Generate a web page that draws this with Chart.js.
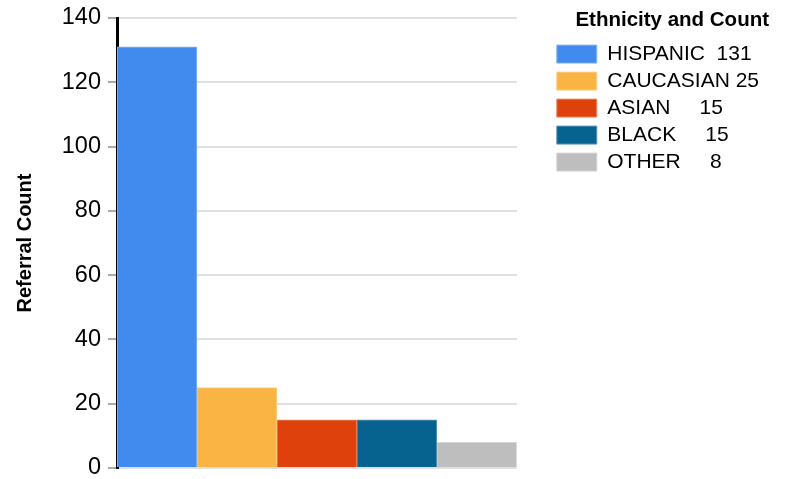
<!DOCTYPE html>
<html>
<head>
<meta charset="utf-8">
<script src="https://cdn.jsdelivr.net/npm/chart.js@4"></script>
<style>
  html, body { margin: 0; padding: 0; background: #fff; }
  #wrap { width: 786px; height: 479px; }
</style>
</head>
<body>
<div id="wrap"><canvas id="chart" width="786" height="479"></canvas></div>
<script>
// data
const groups = ['HISPANIC', 'CAUCASIAN', 'ASIAN', 'BLACK', 'OTHER'];
const counts = [131, 25, 15, 15, 8];
// legend text as shown (names padded so the counts line up)
const legendText = ['HISPANIC  131', 'CAUCASIAN 25', 'ASIAN     15', 'BLACK     15', 'OTHER     8'];
const fills = ['#418bee', '#f9b443', '#df410d', '#06638f', '#bebebe'];
const edges = ['#8ab6f3', '#fbcf87', '#eb8a68', '#5f98b6', '#d6d6d6'];
const yTicks = { min: 0, max: 140, step: 20 };

const font = "'Liberation Sans', Arial, sans-serif";

const datasets = groups.map((g, i) => ({
    label: legendText[i],
    data: [counts[i]],
    backgroundColor: fills[i],
    borderColor: edges[i],
    borderWidth: 1,
    categoryPercentage: 1,
    barPercentage: 1
}));

new Chart(document.getElementById('chart').getContext('2d'), {
    type: 'bar',
    data: { labels: [''], datasets: datasets },
    options: {
        responsive: false,
        animation: false,
        devicePixelRatio: 1,
        layout: { padding: { left: 9, right: 17, top: 0, bottom: 11 } },
        plugins: {
            tooltip: { enabled: false },
            legend: {
                position: 'right',
                align: 'start',
                maxWidth: 300,
                title: {
                    display: true,
                    text: 'Ethnicity and Count',
                    position: 'end',
                    color: '#000',
                    padding: { top: 10, bottom: 3 },
                    font: { family: font, size: 20.5, weight: 'bold' }
                },
                labels: {
                    boxWidth: 40,
                    boxHeight: 18,
                    padding: 6,
                    color: '#000',
                    font: { family: font, size: 21 }
                }
            }
        },
        scales: {
            x: { display: false },
            y: {
                min: yTicks.min,
                max: yTicks.max,
                ticks: {
                    stepSize: yTicks.step,
                    padding: 7,
                    color: '#000',
                    font: { family: font, size: 23.5 }
                },
                grid: {
                    color: '#e0e0e0',
                    lineWidth: 2,
                    tickColor: '#555',
                    tickWidth: 1,
                    tickLength: 9
                },
                border: { display: true, color: '#000', width: 3 },
                title: {
                    display: true,
                    text: 'Referral Count',
                    color: '#000',
                    padding: { top: 4, bottom: 4 },
                    font: { family: font, size: 20, weight: 'bold' }
                },
                afterFit: (s) => {
                    s.width = 108;
                    s.paddingTop = 18;
                    s.paddingBottom = 0;
                }
            },
            // empty axis, only keeps the gap between plot and legend
            gap: {
                type: 'linear',
                position: 'right',
                display: true,
                ticks: { display: false },
                grid: { display: false },
                border: { display: false },
                afterFit: (s) => {
                    s.width = 34;
                    s.paddingTop = 0;
                    s.paddingBottom = 0;
                }
            }
        }
    }
});
</script>
</body>
</html>
